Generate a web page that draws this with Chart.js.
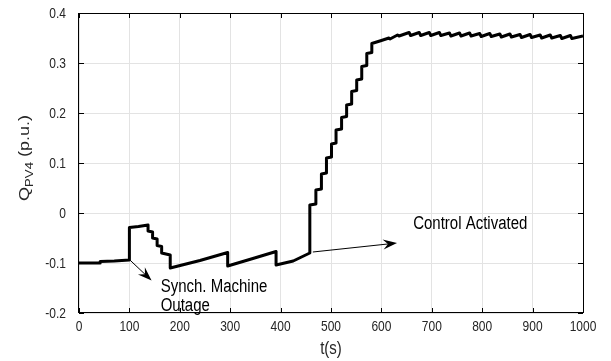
<!DOCTYPE html>
<html>
<head>
<meta charset="utf-8">
<script src="https://cdn.jsdelivr.net/npm/chart.js@4/dist/chart.umd.min.js"></script>
<style>
  html, body { margin: 0; padding: 0; background: #ffffff; }
  canvas { display: block; }
</style>
</head>
<body>
<canvas id="chart" width="611" height="361"></canvas>
<script>
// Reactive power of PV unit 4 over time (s, p.u.)
const timeS = [
  0, 42, 42, 70, 100, 100, 118, 137, 137, 146, 146, 155, 155, 164, 164, 181, 181,
  240, 295, 295, 345, 391, 391, 425, 458,
  458, 470, 470, 481, 481, 491, 491, 501, 501, 510, 510, 521, 521, 531, 531,
  541, 541, 551, 551, 561, 561, 571, 571, 581, 581, 600, 615, 617, 632, 635,
  655, 658, 675, 678, 695, 698, 715, 718, 735, 738, 755, 758, 775, 778, 795, 798,
  815, 818, 835, 838, 855, 858, 875, 878, 895, 898, 915, 918, 935, 938, 955, 958,
  975, 978, 1000
];
const qPV4 = [
  -0.100, -0.100, -0.097, -0.096, -0.094, -0.029, -0.027, -0.024, -0.036, -0.038, -0.050, -0.052, -0.065, -0.067, -0.080, -0.084, -0.110,
  -0.095, -0.079, -0.106, -0.091, -0.077, -0.104, -0.096, -0.080,
  0.016, 0.018, 0.046, 0.048, 0.078, 0.080, 0.110, 0.112, 0.138, 0.140, 0.166, 0.168, 0.191, 0.193, 0.216,
  0.218, 0.243, 0.245, 0.266, 0.268, 0.293, 0.295, 0.319, 0.321, 0.339, 0.345, 0.350, 0.348, 0.356, 0.354,
  0.361, 0.355, 0.361, 0.355, 0.361, 0.355, 0.361, 0.355, 0.360, 0.354, 0.360, 0.354, 0.360, 0.354, 0.359, 0.353,
  0.359, 0.353, 0.358, 0.352, 0.358, 0.352, 0.357, 0.351, 0.357, 0.351, 0.356, 0.350, 0.356, 0.350, 0.355, 0.349,
  0.355, 0.349, 0.354
];

const xTickValues = [0, 100, 200, 300, 400, 500, 600, 700, 800, 900, 1000];
const xTickLabels = ['0', '100', '200', '300', '400', '500', '600', '700', '800', '900', '1000'];
const yTickValues = [-0.2, -0.1, 0, 0.1, 0.2, 0.3, 0.4];
const yTickLabels = ['-0.2', '-0.1', '0', '0.1', '0.2', '0.3', '0.4'];

const xTitle = 't(s)';
const yTitleMain = 'Q';
const yTitleSub = 'PV4';
const yTitleUnit = ' (p.u.)';

// Event notes: arrow tail/head and text anchors in data units
const outageArrow = { tail: [101, -0.094], head: [144, -0.135] };
const outageText = { lines: ['Synch. Machine', 'Outage'], at: [162, -0.148], lineStep: -0.038 };
const controlArrow = { tail: [464, -0.078], head: [631, -0.060] };
const controlText = { lines: ['Control Activated'], at: [663, -0.022], lineStep: 0 };

const TEXT_STRETCH = 1.2;
const FONT = '"Liberation Sans", Arial, Helvetica, sans-serif';
const AXIS_TEXT = '#262626';

function stretchedText(ctx, str, x, y, size, align, color) {
  ctx.save();
  ctx.translate(x, y);
  ctx.scale(1, TEXT_STRETCH);
  ctx.font = size + 'px ' + FONT;
  ctx.textAlign = align;
  ctx.textBaseline = 'middle';
  ctx.fillStyle = color;
  ctx.fillText(str, 0, 0);
  ctx.restore();
}

function drawArrow(ctx, x1, y1, x2, y2) {
  const L = 14, W = 10;
  const dx = x2 - x1, dy = y2 - y1;
  const len = Math.hypot(dx, dy);
  const ux = dx / len, uy = dy / len;
  const nx = -uy, ny = ux;
  ctx.save();
  ctx.strokeStyle = '#000';
  ctx.fillStyle = '#000';
  ctx.lineWidth = 1;
  ctx.beginPath();
  ctx.moveTo(x1, y1);
  ctx.lineTo(x2 - ux * L * 0.6, y2 - uy * L * 0.6);
  ctx.stroke();
  ctx.beginPath();
  ctx.moveTo(x2, y2);
  ctx.lineTo(x2 - ux * L + nx * W / 2, y2 - uy * L + ny * W / 2);
  ctx.lineTo(x2 - ux * L * 0.65, y2 - uy * L * 0.65);
  ctx.lineTo(x2 - ux * L - nx * W / 2, y2 - uy * L - ny * W / 2);
  ctx.closePath();
  ctx.fill();
  ctx.restore();
}

// Box around the plot with inward tick marks on all four sides
const axesBox = {
  id: 'axesBox',
  afterDatasetsDraw(chart) {
    const { ctx, chartArea: a, scales: { x, y } } = chart;
    ctx.save();
    ctx.strokeStyle = '#000';
    ctx.lineWidth = 1;
    ctx.strokeRect(Math.round(a.left) - 0.5, Math.round(a.top) + 0.5,
                   Math.round(a.right - a.left) + 1, Math.round(a.bottom - a.top) - 1);
    ctx.beginPath();
    xTickValues.forEach(v => {
      const px = Math.round(x.getPixelForValue(v)) + 0.5;
      ctx.moveTo(px, a.bottom); ctx.lineTo(px, a.bottom - 5);
      ctx.moveTo(px, a.top); ctx.lineTo(px, a.top + 5);
    });
    yTickValues.forEach(v => {
      const py = Math.round(y.getPixelForValue(v)) + 0.5;
      ctx.moveTo(a.left, py); ctx.lineTo(a.left + 5, py);
      ctx.moveTo(a.right, py); ctx.lineTo(a.right - 5, py);
    });
    ctx.stroke();
    ctx.restore();
  }
};

// Tick labels, axis titles and event notes
const labelsAndNotes = {
  id: 'labelsAndNotes',
  afterDraw(chart) {
    const { ctx, chartArea: a, scales: { x, y } } = chart;
    xTickValues.forEach((v, i) => {
      stretchedText(ctx, xTickLabels[i], x.getPixelForValue(v), a.bottom + 14, 12, 'center', AXIS_TEXT);
    });
    yTickValues.forEach((v, i) => {
      stretchedText(ctx, yTickLabels[i], a.left - 13, y.getPixelForValue(v) + 1, 12, 'right', AXIS_TEXT);
    });
    stretchedText(ctx, xTitle, (a.left + a.right) / 2, a.bottom + 36, 15, 'center', AXIS_TEXT);

    // y title with subscript, rotated
    ctx.save();
    ctx.translate(25, (a.top + a.bottom) / 2 - 5);
    ctx.scale(1, TEXT_STRETCH);
    ctx.rotate(-Math.PI / 2);
    ctx.fillStyle = AXIS_TEXT;
    ctx.textBaseline = 'middle';
    ctx.textAlign = 'left';
    ctx.font = '15px ' + FONT;
    const wMain = ctx.measureText(yTitleMain).width;
    const wUnit = ctx.measureText(yTitleUnit).width;
    ctx.font = '11px ' + FONT;
    const wSub = ctx.measureText(yTitleSub).width;
    let cx = -(wMain + wSub + wUnit) / 2;
    ctx.font = '15px ' + FONT;
    ctx.fillText(yTitleMain, cx, 0);
    cx += wMain;
    ctx.font = '11px ' + FONT;
    ctx.fillText(yTitleSub, cx, 5);
    cx += wSub;
    ctx.font = '15px ' + FONT;
    ctx.fillText(yTitleUnit, cx, 0);
    ctx.restore();

    [outageArrow, controlArrow].forEach(ar => {
      drawArrow(ctx,
        x.getPixelForValue(ar.tail[0]), y.getPixelForValue(ar.tail[1]),
        x.getPixelForValue(ar.head[0]), y.getPixelForValue(ar.head[1]));
    });
    [outageText, controlText].forEach(t => {
      t.lines.forEach((line, i) => {
        stretchedText(ctx, line, x.getPixelForValue(t.at[0]),
          y.getPixelForValue(t.at[1] + i * t.lineStep), 15, 'left', '#000');
      });
    });
  }
};

new Chart(document.getElementById('chart'), {
  type: 'scatter',
  data: {
    datasets: [{
      data: timeS.map((t, i) => ({ x: t, y: qPV4[i] })),
      showLine: true,
      borderColor: '#000000',
      borderWidth: 3,
      borderJoinStyle: 'round',
      pointRadius: 0,
      tension: 0,
      fill: false
    }]
  },
  options: {
    responsive: false,
    animation: false,
    devicePixelRatio: 1,
    layout: { padding: { top: 13, right: 28, left: 0, bottom: 0 } },
    plugins: { legend: { display: false }, tooltip: { enabled: false } },
    scales: {
      x: {
        type: 'linear', min: 0, max: 1000,
        afterBuildTicks: s => { s.ticks = xTickValues.map(v => ({ value: v })); },
        afterFit: s => { s.height = 48; },
        ticks: { display: false },
        grid: { color: '#e3e3e3', drawTicks: false },
        border: { display: false }
      },
      y: {
        type: 'linear', min: -0.2, max: 0.4,
        afterBuildTicks: s => { s.ticks = yTickValues.map(v => ({ value: v })); },
        afterFit: s => { s.width = 79; },
        ticks: { display: false },
        grid: { color: '#e3e3e3', drawTicks: false },
        border: { display: false }
      }
    }
  },
  plugins: [axesBox, labelsAndNotes]
});
</script>
</body>
</html>
